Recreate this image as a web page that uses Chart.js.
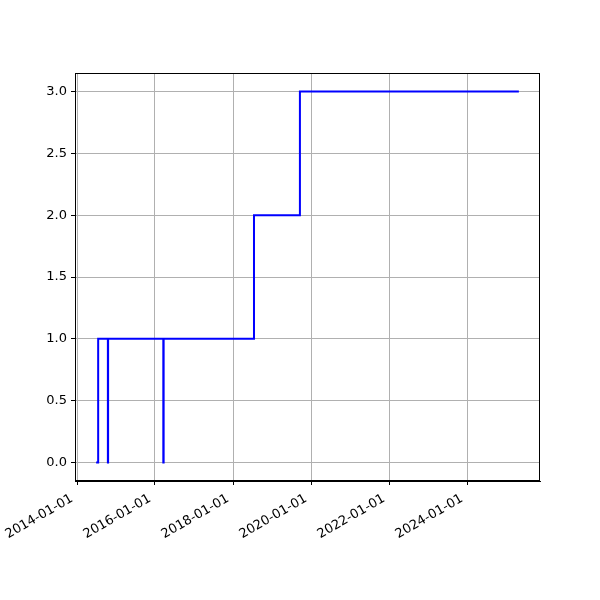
<!DOCTYPE html>
<html>
<head>
<meta charset="utf-8">
<script src="https://cdn.jsdelivr.net/npm/chart.js@4/dist/chart.umd.min.js"></script>
<style>
  body { margin: 0; background: #fff; }
</style>
</head>
<body>
<canvas id="myChart" width="600" height="600"></canvas>
<script>
// step dates and values
var dates = ["2014-06-29", "2014-07-18", "2014-10-17", "2014-10-19", "2016-03-19", "2016-03-22",
             "2018-07-16", "2019-09-19", "2025-04-30"];
var values = [0, 1, 0, 1, 0, 1, 2, 3, 3];
var tickDates = ["2014-01-01", "2016-01-01", "2018-01-01", "2020-01-01", "2022-01-01", "2024-01-01"];
var yTicks = [0, 0.5, 1, 1.5, 2, 2.5, 3];

function ts(s) { return Date.parse(s + "T00:00:00Z"); }
function fmt(v) {
  var d = new Date(v);
  var m = d.getUTCMonth() + 1, day = d.getUTCDate();
  return d.getUTCFullYear() + "-" + (m < 10 ? "0" : "") + m + "-" + (day < 10 ? "0" : "") + day;
}

var points = dates.map(function(d, i) { return {x: ts(d), y: values[i]}; });
var xs = points.map(function(p) { return p.x; });
var xMin = Math.min.apply(null, xs), xMax = Math.max.apply(null, xs);
var xPad = (xMax - xMin) * 0.05;
var yPad = (3 - 0) * 0.05;

Chart.defaults.font.family = "'DejaVu Sans', sans-serif";
Chart.defaults.font.size = 13;
Chart.defaults.color = "#000";

// matplotlib style frame on all four sides
var frame = {
  id: "frame",
  afterDatasetsDraw: function(chart) {
    var a = chart.chartArea, ctx = chart.ctx;
    ctx.save();
    ctx.strokeStyle = "#000";
    ctx.lineWidth = 1;
    ctx.strokeRect(a.left + 0.5, a.top + 0.5, a.right - a.left - 1, a.bottom - a.top - 1);
    ctx.restore();
  }
};

new Chart("myChart", {
  type: "line",
  data: {
    datasets: [{
      data: points,
      borderColor: "#0000ff",
      borderWidth: 2,
      pointRadius: 0,
      stepped: "before",
      fill: false
    }]
  },
  options: {
    responsive: false,
    animation: false,
    plugins: { legend: { display: false }, tooltip: { enabled: false } },
    layout: { padding: { top: 73, right: 60, bottom: 0, left: 0 } },
    scales: {
      x: {
        type: "linear",
        min: xMin - xPad,
        max: xMax + xPad,
        afterBuildTicks: function(axis) {
          axis.ticks = tickDates.map(function(d) { return {value: ts(d)}; });
        },
        afterFit: function(axis) { axis.height = 119; },
        ticks: {
          callback: function(v) { return fmt(v); },
          minRotation: 30,
          maxRotation: 30,
          padding: 6,
          labelOffset: -5,
          autoSkip: false
        },
        grid: { color: "#b0b0b0", lineWidth: 1, tickColor: "#000", tickLength: 4 },
        border: { color: "#000", width: 1 }
      },
      y: {
        min: -yPad,
        max: 3 + yPad,
        afterBuildTicks: function(axis) {
          axis.ticks = yTicks.map(function(v) { return {value: v}; });
        },
        afterFit: function(axis) { axis.width = 75; },
        ticks: {
          callback: function(v) { return v.toFixed(1); },
          padding: 4
        },
        grid: { color: "#b0b0b0", lineWidth: 1, tickColor: "#000", tickLength: 4 },
        border: { color: "#000", width: 1 }
      }
    }
  },
  plugins: [frame]
});
</script>
</body>
</html>
